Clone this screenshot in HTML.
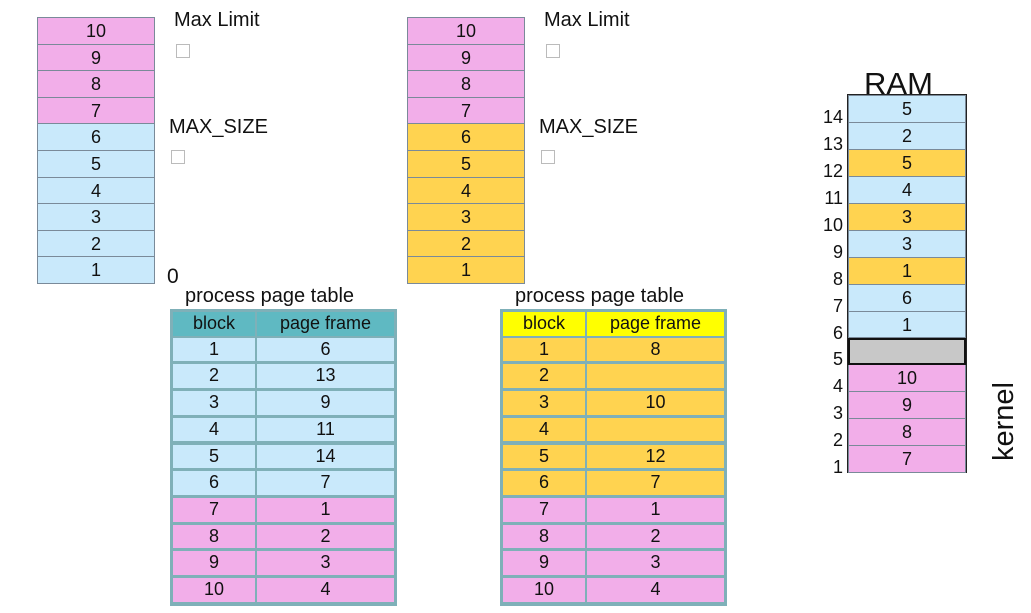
<!DOCTYPE html>
<html><head><meta charset="utf-8"><style>
body{margin:0;width:1031px;height:613px;background:#fff;position:relative;overflow:hidden;font-family:"Liberation Sans",sans-serif;color:#111}
.a{position:absolute;box-sizing:border-box}
.cell{position:absolute;box-sizing:border-box;text-align:center;font-size:18px;border:1px solid #7a8a99}
.lbl{position:absolute;font-size:20px}
.chk{position:absolute;width:12px;height:12px;border:1px solid #bbb}
</style></head><body>
<div class="lbl" style="left:174px;top:9px">Max Limit</div>
<div class="chk" style="left:176px;top:44px"></div>
<div class="lbl" style="left:169px;top:116px">MAX_SIZE</div>
<div class="chk" style="left:171px;top:150px"></div>
<div class="lbl" style="left:544px;top:9px">Max Limit</div>
<div class="chk" style="left:546px;top:44px"></div>
<div class="lbl" style="left:539px;top:116px">MAX_SIZE</div>
<div class="chk" style="left:541px;top:150px"></div>
<div class="lbl" style="left:167px;top:265px;font-size:21px">0</div>
<div class="lbl" style="left:185px;top:285px">process page table</div>
<div class="lbl" style="left:515px;top:285px">process page table</div>
<div class="lbl" style="left:864px;top:66px;font-size:31px">RAM</div>
<div class="lbl" style="left:965px;top:405px;font-size:29px;transform:rotate(-90deg);transform-origin:center">kernel</div>
<script>
const PINK='#f2aee9',BLUE='#c9e9fb',ORANGE='#ffd350',GRAY='#c8c8c8';
const stack1=['B','B','B','B','B','B','P','P','P','P'];
const stack2=['O','O','O','O','O','O','P','P','P','P'];
const t1Frames=['6','13','9','11','14','7','1','2','3','4'];
const t2Frames=['8','','10','','12','7','1','2','3','4'];
const ramVals=['7','8','9','10','','1','6','1','3','3','4','5','2','5'];
const ramKinds=['P','P','P','P','G','B','B','O','B','O','B','O','B','B'];
const col={B:BLUE,P:PINK,O:ORANGE,G:GRAY};
const root=document.body;
function mk(cls,x,y,w,h,bg,txt,name){const d=document.createElement('div');d.className=cls;
d.style.cssText=`left:${x}px;top:${y}px;width:${w}px;height:${h}px;line-height:${h}px;background:${bg}`;
d.textContent=txt;


root.appendChild(d);return d;}
function stack(x,kinds,n){const h=26.6;for(let i=0;i<10;i++){const y=283-(i+1)*h;
mk('cell',x,y,118,h+1,col[kinds[i]],String(i+1),'stack'+n+'-block-'+(i+1));}}
stack(37,stack1,1);stack(407,stack2,2);
function table(x,frames,hdr,n,kinds){const h=26.7,top=309;
mk('a',x,top,227,11*h+3,'#7fb0b8','','table-'+n+'-frame');
mk('cell',x+3,top+3,82,h-3,hdr,'block','table-'+n+'-header-block').style.border='none';
mk('cell',x+87,top+3,137,h-3,hdr,'page frame','table-'+n+'-header-frame').style.border='none';
for(let i=0;i<10;i++){const y=top+(i+1)*h+2;const c=col[kinds[i]];
const a=mk('cell',x+3,y,82,h-3,c,String(i+1),'table-'+n+'-block-'+(i+1));a.style.border='none';
const f=mk('cell',x+87,y,137,h-3,c,frames[i],'table-'+n+'-frame-'+(i+1));f.style.border='none';}}
table(170,t1Frames,'#5fb9c2',1,stack1);table(500,t2Frames,'#ffff00',2,stack2);
const rh=26.9;
mk('a',847,94,120,14*rh+2,'#222','','ram-frame');
for(let i=0;i<14;i++){const y=472-(i+1)*rh;
const c=mk('cell',848,y,118,rh+1,col[ramKinds[i]],ramVals[i],'ram-frame-'+(i+1));
if(ramKinds[i]==='G'){c.style.border='2px solid #111';}
const l=mk('lbl',815,y+rh-16,28,22,'transparent',String(i+1),'ram-index-'+(i+1));
l.style.textAlign='right';l.style.fontSize='18px';l.style.lineHeight='22px';}
</script>
</body></html>
